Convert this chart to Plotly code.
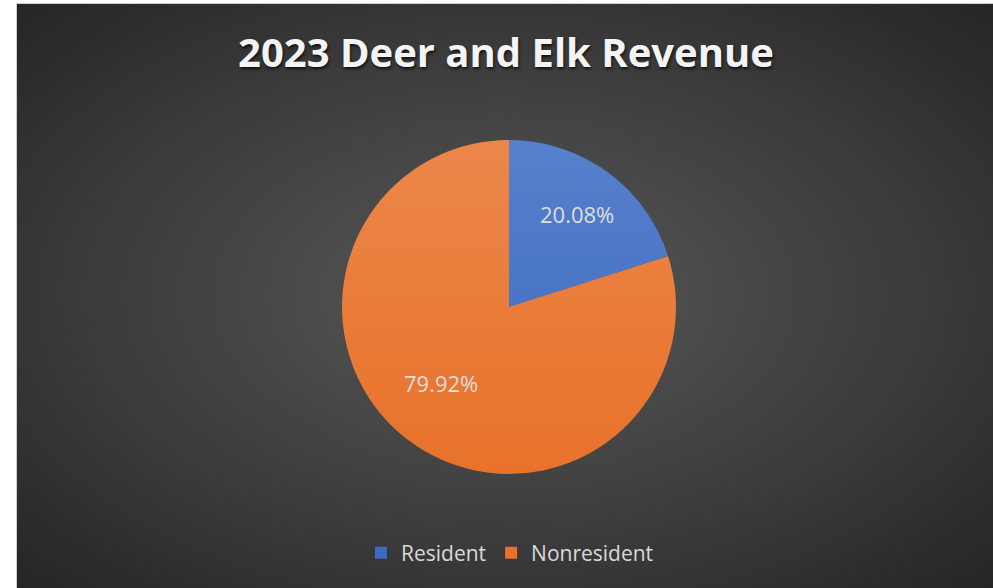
import base64
import math
import plotly.graph_objects as go

# ---- data ----
categories = ["Resident", "Nonresident"]
shares = [20.08, 79.92]
slice_colors = ["#3A6AC3", "#E8722A"]
title_text = "2023 Deer and Elk Revenue"

W, H = 993, 588
PX0, PY0 = 16, 3  # dark panel top-left
DOM_X = [0.3444, 0.6808]
DOM_Y = [0.194, 0.762]
LABEL_RF = 0.69  # label distance as a fraction of the radius


def b64svg(s):
    return "data:image/svg+xml;base64," + base64.b64encode(s.encode()).decode()


bg_svg = (
    '<svg xmlns="http://www.w3.org/2000/svg" width="977" height="585" '
    'viewBox="0 0 977 585" preserveAspectRatio="none">'
    '<defs><radialGradient id="g" cx="0.5" cy="0.5" r="0.72">'
    '<stop offset="0" stop-color="#585858"/>'
    '<stop offset="0.55" stop-color="#3d3d3d"/>'
    '<stop offset="1" stop-color="#242424"/>'
    '</radialGradient></defs>'
    '<rect width="977" height="585" fill="url(#g)"/></svg>'
)

shade_svg = (
    '<svg xmlns="http://www.w3.org/2000/svg" width="200" height="200" viewBox="0 0 200 200">'
    '<defs><linearGradient id="s" x1="0" y1="0" x2="0" y2="1">'
    '<stop offset="0" stop-color="#ffffff" stop-opacity="0.15"/>'
    '<stop offset="1" stop-color="#ffffff" stop-opacity="0"/>'
    '</linearGradient></defs>'
    '<circle cx="100" cy="100" r="100" fill="url(#s)"/></svg>'
)

fig = go.Figure(
    go.Pie(
        labels=categories,
        values=shares,
        sort=False,
        direction="clockwise",
        rotation=0,
        marker=dict(colors=slice_colors, line=dict(width=0)),
        textinfo="none",
        hoverinfo="label+percent",
        domain=dict(x=DOM_X, y=DOM_Y),
    )
)

# data labels: placed along each slice's mid-angle
total = sum(shares)
cx, cy = sum(DOM_X) / 2, sum(DOM_Y) / 2
rx, ry = (DOM_X[1] - DOM_X[0]) / 2, (DOM_Y[1] - DOM_Y[0]) / 2
annotations = []
acc = 0.0
for v in shares:
    mid = math.radians((acc + v / 2) / total * 360)
    acc += v
    annotations.append(dict(
        x=cx + LABEL_RF * rx * math.sin(mid),
        y=cy + LABEL_RF * ry * math.cos(mid),
        xref="paper", yref="paper",
        text=f"{v / total * 100:.2f}%",
        showarrow=False,
        font=dict(family="Open Sans", size=22, color="#dedede"),
    ))

fig.update_layout(
    width=W,
    height=H,
    margin=dict(l=0, r=0, t=0, b=0),
    paper_bgcolor="white",
    title=dict(
        text=title_text,
        x=506 / W,
        xanchor="center",
        y=1 - 53 / H,
        yanchor="middle",
        font=dict(family="Open Sans", size=40, weight="bold", color="#f4f4f4",
                  shadow="1px 2px 3px rgba(0,0,0,0.7)"),
    ),
    legend=dict(
        orientation="h",
        x=510 / W,
        xanchor="center",
        y=1 - 553 / H,
        yanchor="middle",
        font=dict(family="Open Sans", size=21, color="#d9d9d9"),
        bgcolor="rgba(0,0,0,0)",
    ),
    annotations=annotations,
    images=[
        dict(
            source=b64svg(bg_svg),
            xref="paper", yref="paper",
            x=PX0 / W, y=1 - PY0 / H,
            sizex=(W - PX0) / W, sizey=(H - PY0) / H,
            xanchor="left", yanchor="top",
            sizing="stretch",
            layer="below",
        ),
        dict(
            source=b64svg(shade_svg),
            xref="paper", yref="paper",
            x=DOM_X[0], y=DOM_Y[1],
            sizex=DOM_X[1] - DOM_X[0], sizey=DOM_Y[1] - DOM_Y[0],
            xanchor="left", yanchor="top",
            sizing="stretch",
            layer="above",
        ),
    ],
    shapes=[
        dict(type="line", xref="paper", yref="paper",
             x0=(PX0 + 0.5) / W, x1=(PX0 + 0.5) / W, y0=0, y1=1 - PY0 / H,
             line=dict(color="#cfcfcf", width=1)),
        dict(type="line", xref="paper", yref="paper",
             x0=PX0 / W, x1=1, y0=1 - (PY0 + 0.5) / H, y1=1 - (PY0 + 0.5) / H,
             line=dict(color="#cfcfcf", width=1)),
    ],
)

fig.write_html("out.html", config={"displayModeBar": False},
               post_script="document.body.style.margin='0';")
